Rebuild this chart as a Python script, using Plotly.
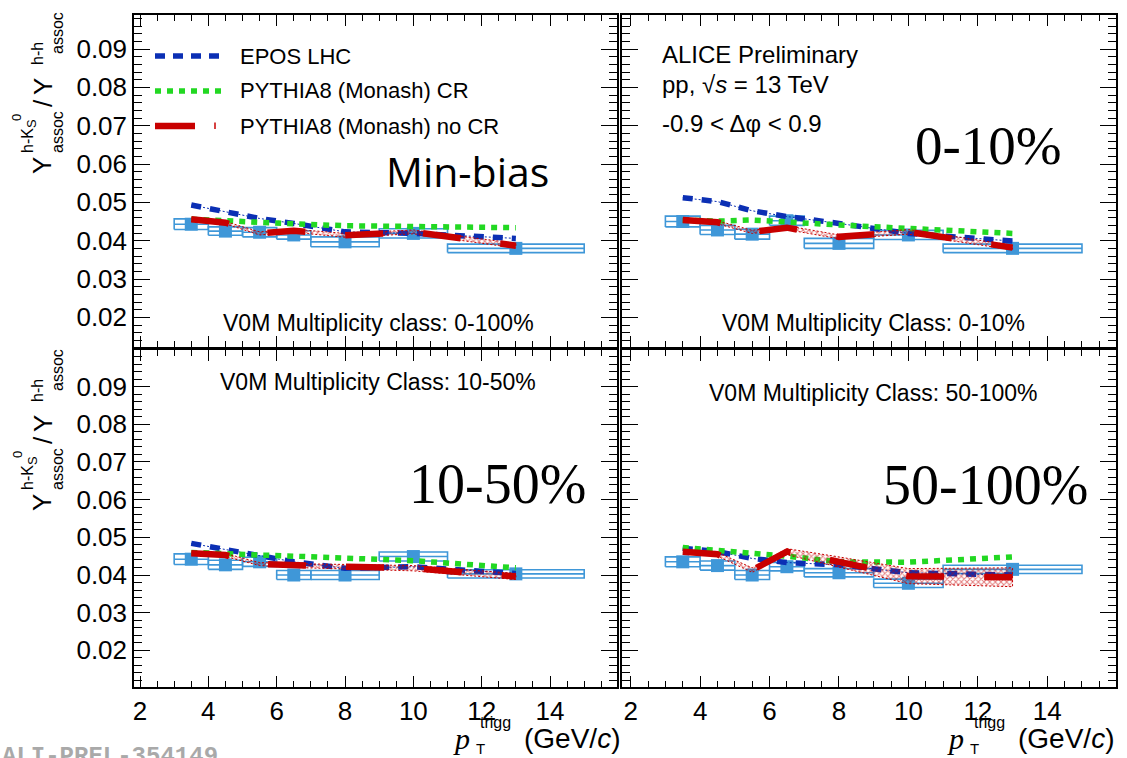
import plotly.graph_objects as go

W, H = 1127, 758

# ---------------- data ----------------
x_pt = [3.5, 4.5, 5.5, 6.5, 8.0, 10.0, 13.0]
x_hw = [0.5, 0.5, 0.5, 0.5, 1.0, 1.0, 2.0]

# Min-bias (0-100%)
data_mb = [0.0443, 0.0425, 0.0422, 0.0415, 0.0397, 0.0419, 0.0380]
sys_mb = [0.0014, 0.0011, 0.0012, 0.0011, 0.0013, 0.0012, 0.0011]
epos_mb = [0.0493, 0.0476, 0.0458, 0.0445, 0.0423, 0.0419, 0.0406]
cr_mb = [0.0456, 0.0451, 0.0447, 0.0444, 0.0439, 0.0437, 0.0434]
nocr_mb = [0.0456, 0.0447, 0.0419, 0.0426, 0.0414, 0.0423, 0.0387]
nocr_err_mb = [0.0003, 0.0003, 0.0004, 0.0004, 0.0005, 0.0005, 0.0006]

# 0-10%
data_010 = [0.0450, 0.0428, 0.0417, 0.0452, 0.0393, 0.0415, 0.0380]
sys_010 = [0.0014, 0.0012, 0.0013, 0.0012, 0.0013, 0.0012, 0.0011]
epos_010 = [0.0512, 0.0502, 0.0478, 0.0463, 0.0445, 0.0419, 0.0399]
cr_010 = [0.0454, 0.0451, 0.0454, 0.0448, 0.0441, 0.0432, 0.0419]
nocr_010 = [0.0454, 0.0448, 0.0423, 0.0434, 0.0410, 0.0423, 0.0382]
nocr_err_010 = [0.0003, 0.0004, 0.0004, 0.0005, 0.0005, 0.0006, 0.0006]

# 10-50%
data_1050 = [0.0442, 0.0427, 0.0435, 0.0400, 0.0400, 0.0449, 0.0403]
sys_1050 = [0.0014, 0.0012, 0.0012, 0.0012, 0.0012, 0.0012, 0.0011]
epos_1050 = [0.0484, 0.0468, 0.0450, 0.0435, 0.0418, 0.0422, 0.0404]
cr_1050 = [0.0460, 0.0458, 0.0453, 0.0450, 0.0446, 0.0438, 0.0419]
nocr_1050 = [0.0458, 0.0453, 0.0429, 0.0425, 0.0422, 0.0418, 0.0396]
nocr_err_1050 = [0.0003, 0.0004, 0.0004, 0.0005, 0.0006, 0.0007, 0.0008]

# 50-100%
data_50100 = [0.0435, 0.0425, 0.0400, 0.0422, 0.0406, 0.0378, 0.0415]
sys_50100 = [0.0013, 0.0012, 0.0012, 0.0011, 0.0011, 0.0011, 0.0011]
epos_50100 = [0.0471, 0.0462, 0.0444, 0.0433, 0.0427, 0.0406, 0.0400]
cr_50100 = [0.0473, 0.0465, 0.0460, 0.0450, 0.0435, 0.0434, 0.0448]
nocr_50100 = [0.0462, 0.0455, 0.0413, 0.0462, 0.0435, 0.0397, 0.0394]
nocr_err_50100 = [0.0004, 0.0005, 0.0006, 0.0008, 0.0013, 0.0020, 0.0025]

x_tick_vals = [2, 4, 6, 8, 10, 12, 14]
y_tick_vals = [0.02, 0.03, 0.04, 0.05, 0.06, 0.07, 0.08, 0.09]

# ---------------- styles ----------------
C_DATA = "#3f97d8"
C_EPOS = "#0b2fb4"
C_CR = "#22d822"
C_NOCR = "#c80000"

panels = [
    dict(data=data_mb, sys=sys_mb, epos=epos_mb, cr=cr_mb, nocr=nocr_mb, err=nocr_err_mb, xa="x", ya="y"),
    dict(data=data_010, sys=sys_010, epos=epos_010, cr=cr_010, nocr=nocr_010, err=nocr_err_010, xa="x2", ya="y2"),
    dict(data=data_1050, sys=sys_1050, epos=epos_1050, cr=cr_1050, nocr=nocr_1050, err=nocr_err_1050, xa="x3", ya="y3"),
    dict(data=data_50100, sys=sys_50100, epos=epos_50100, cr=cr_50100, nocr=nocr_50100, err=nocr_err_50100, xa="x4", ya="y4"),
]

fig = go.Figure()

for p in panels:
    xa, ya = p["xa"], p["ya"]
    # systematic boxes
    bx, by = [], []
    for xc, hw, yv, s in zip(x_pt, x_hw, p["data"], p["sys"]):
        bx += [xc - hw, xc + hw, xc + hw, xc - hw, xc - hw, None]
        by += [yv - s, yv - s, yv + s, yv + s, yv - s, None]
    fig.add_trace(go.Scatter(x=bx, y=by, mode="lines", line=dict(color=C_DATA, width=1.6),
                             xaxis=xa, yaxis=ya, showlegend=False, hoverinfo="skip"))
    # data points with horizontal bin bars
    fig.add_trace(go.Scatter(x=x_pt, y=p["data"], mode="markers",
                             marker=dict(symbol="square", size=13, color=C_DATA),
                             error_x=dict(type="data", array=x_hw, color=C_DATA, thickness=1.6, width=0),
                             xaxis=xa, yaxis=ya, showlegend=False))
    # EPOS
    fig.add_trace(go.Scatter(x=x_pt, y=p["epos"], mode="lines",
                             line=dict(color=C_EPOS, width=1, dash="2px,2px"),
                             xaxis=xa, yaxis=ya, showlegend=False))
    fig.add_trace(go.Scatter(x=x_pt, y=p["epos"], mode="lines",
                             line=dict(color=C_EPOS, width=5.5, dash="10px,9px"),
                             xaxis=xa, yaxis=ya, showlegend=False))
    # PYTHIA CR
    fig.add_trace(go.Scatter(x=x_pt, y=p["cr"], mode="lines",
                             line=dict(color=C_CR, width=5.5, dash="6px,6px"),
                             xaxis=xa, yaxis=ya, showlegend=False))
    # PYTHIA no CR band
    up = [v + e for v, e in zip(p["nocr"], p["err"])]
    lo = [v - e for v, e in zip(p["nocr"], p["err"])]
    fig.add_trace(go.Scatter(x=x_pt + x_pt[::-1], y=up + lo[::-1], mode="lines", fill="toself",
                             fillcolor="rgba(0,0,0,0)",
                             fillpattern=dict(shape="x", fgcolor=C_NOCR, size=4, solidity=0.45),
                             line=dict(color=C_NOCR, width=1, dash="2px,2px"),
                             xaxis=xa, yaxis=ya, showlegend=False, hoverinfo="skip"))
    fig.add_trace(go.Scatter(x=x_pt, y=p["nocr"], mode="lines",
                             line=dict(color=C_NOCR, width=6.5, dash="38px,40px"),
                             xaxis=xa, yaxis=ya, showlegend=False))


def fx(px):
    return px / W


def fy(py):
    return 1 - py / H


XL = [fx(134), fx(617)]
XR = [fx(622), fx(1116)]
YT = [fy(347), fy(15)]
YB = [fy(687), fy(350)]

rng_xl = [1.824, 15.96]
rng_xr = [1.75, 15.98]
rng_yt = [0.01227, 0.09887]
rng_yb = [0.01027, 0.09973]

tickfont = dict(family="Liberation Sans, Arial, sans-serif", size=26, color="black")


def xaxis(dom, rng, anchor, labels):
    return dict(domain=dom, range=rng, anchor=anchor, showgrid=False, zeroline=False,
                showline=True, linecolor="black", linewidth=1.5, mirror="allticks",
                ticks="inside", ticklen=11, tickwidth=1.3, tickcolor="black",
                tickvals=x_tick_vals, ticktext=[str(v) for v in x_tick_vals],
                showticklabels=labels, tickfont=tickfont,
                minor=dict(dtick=0.5, tick0=2, ticks="inside", ticklen=6, tickwidth=1.1, tickcolor="black"))


def yaxis(dom, rng, anchor, labels):
    return dict(domain=dom, range=rng, anchor=anchor, showgrid=False, zeroline=False,
                showline=True, linecolor="black", linewidth=1.5, mirror="allticks",
                ticks="inside", ticklen=16, tickwidth=1.3, tickcolor="black",
                tickvals=y_tick_vals, ticktext=["%.2f" % v for v in y_tick_vals],
                showticklabels=labels, tickfont=tickfont,
                minor=dict(dtick=0.002, tick0=0, ticks="inside", ticklen=8, tickwidth=1.1, tickcolor="black"))


SANS = "Liberation Sans, Arial, sans-serif"
SERIF = "Liberation Serif, Times New Roman, serif"


def ann(text, x, y, size, xanchor="center", yanchor="middle", family=SANS, angle=0, color="black"):
    return dict(text=text, x=fx(x), y=fy(y), xref="paper", yref="paper", showarrow=False,
                xanchor=xanchor, yanchor=yanchor, textangle=angle,
                font=dict(family=family, size=size, color=color))


annotations = []
# legend texts
annotations += [
    ann("EPOS LHC", 238, 56, 22, xanchor="left"),
    ann("PYTHIA8 (Monash) CR", 238, 91, 22, xanchor="left"),
    ann("PYTHIA8 (Monash) no CR", 238, 126, 22, xanchor="left"),
]
# panel texts
annotations += [
    ann("Min-bias", 384, 171, 41, xanchor="left", family="Open Sans, Lato, sans-serif"),
    ann("V0M Multiplicity class: 0-100%", 378, 323, 23),
    ann("ALICE Preliminary", 660, 54, 24, xanchor="left"),
    ann("pp, \u221a<i>s</i> = 13 TeV", 660, 85, 24, xanchor="left"),
    ann("-0.9 < \u0394\u03c6 < 0.9", 660, 123, 24, xanchor="left"),
    ann("0-10%", 988, 146, 55, family=SERIF),
    ann("V0M Multiplicity Class: 0-10%", 873, 323, 23),
    ann("V0M Multiplicity Class: 10-50%", 378, 382, 23),
    ann("10-50%", 497, 484, 56, family=SERIF),
    ann("V0M Multiplicity Class: 50-100%", 873, 393, 23),
    ann("50-100%", 985, 485, 56, family=SERIF),
]
# x-axis titles
for dx in (0, 494):
    annotations += [
        ann("<i>p</i>", 461 + dx, 738, 30, family=SERIF),
        ann("trigg", 495 + dx, 722, 16),
        ann("T", 480 + dx, 748, 15),
        ann("(GeV/<i>c</i>)", 572 + dx, 738, 28),
    ]
# y-axis titles
for dy in (0, 337):
    annotations += [
        ann("Y", 42, 166 + dy, 26, angle=-90),
        ann("h-K", 27, 141 + dy, 16, angle=-90),
        ann("0", 17, 118 + dy, 13, angle=-90),
        ann("S", 32, 124 + dy, 13, angle=-90),
        ann("assoc", 57, 132 + dy, 16, angle=-90),
        ann("/", 43, 103 + dy, 26, angle=-90),
        ann("Y", 43, 87 + dy, 26, angle=-90),
        ann("h-h", 37, 54 + dy, 16, angle=-90),
        ann("assoc", 57, 33 + dy, 16, angle=-90),
    ]
annotations.append(ann("<b>ALI-PREL-354149</b>", 0, 741, 24, xanchor="left", yanchor="top",
                       family="Liberation Mono, DejaVu Sans Mono, monospace", color="#a9a9a9"))

shapes = [
    dict(type="line", xref="paper", yref="paper", x0=fx(155), x1=fx(222), y0=fy(56), y1=fy(56),
         line=dict(color=C_EPOS, width=5.5, dash="10px,8px")),
    dict(type="line", xref="paper", yref="paper", x0=fx(155), x1=fx(222), y0=fy(91), y1=fy(91),
         line=dict(color=C_CR, width=5.5, dash="6px,6px")),
    dict(type="line", xref="paper", yref="paper", x0=fx(155), x1=fx(195), y0=fy(126), y1=fy(126),
         line=dict(color=C_NOCR, width=6.5)),
    dict(type="line", xref="paper", yref="paper", x0=fx(215), x1=fx(215), y0=fy(122.5), y1=fy(129),
         line=dict(color=C_NOCR, width=1.5)),
]

fig.update_layout(
    width=W, height=H,
    margin=dict(l=0, r=0, t=0, b=0),
    paper_bgcolor="white", plot_bgcolor="white",
    showlegend=False,
    xaxis=xaxis(XL, rng_xl, "y", False),
    yaxis=yaxis(YT, rng_yt, "x", True),
    xaxis2=xaxis(XR, rng_xr, "y2", False),
    yaxis2=yaxis(YT, rng_yt, "x2", False),
    xaxis3=xaxis(XL, rng_xl, "y3", True),
    yaxis3=yaxis(YB, rng_yb, "x3", True),
    xaxis4=xaxis(XR, rng_xr, "y4", True),
    yaxis4=yaxis(YB, rng_yb, "x4", False),
    annotations=annotations,
    shapes=shapes,
)

fig.write_html("out.html")
